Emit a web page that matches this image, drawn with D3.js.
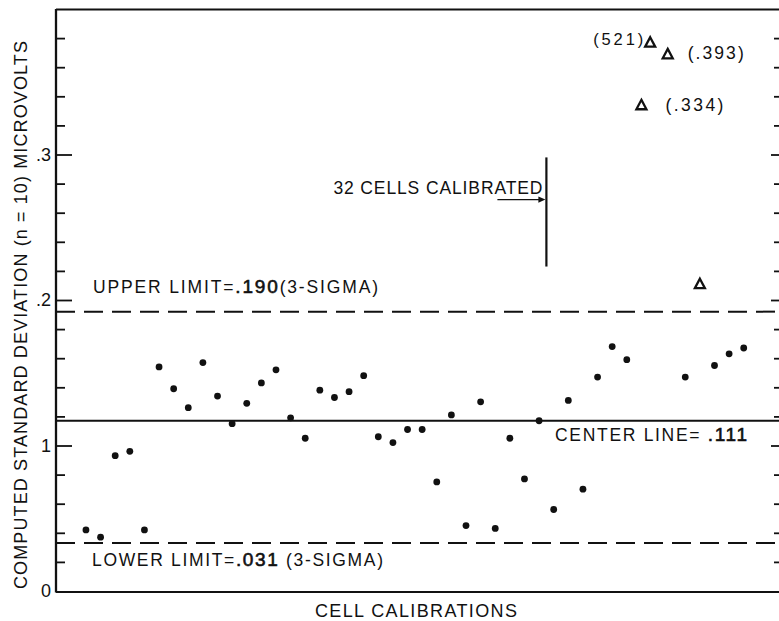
<!DOCTYPE html>
<html><head><meta charset="utf-8">
<script src="https://cdn.jsdelivr.net/npm/d3@7"></script>
<style>
body{margin:0;background:#fff}
svg{display:block;background:#fff}
text{font-family:"Liberation Sans",Arial,sans-serif;fill:#111}
</style>
</head><body><svg id="c" width="779" height="621"></svg>
<script>
// ---- data ----
const dotCells  = [0,1,2,3,4,5,6,7,8,9,10,11,12,13,14,15,16,17,18,19,20,21,22,23,24,25,26,27,28,29,30,31,32,33,34,35,36,37,41,43,44,45];
const dotValues = [0.042,0.037,0.093,0.096,0.042,0.154,0.139,0.126,0.157,0.134,0.115,0.129,0.143,0.152,0.119,0.105,0.138,0.133,0.137,0.148,0.106,0.102,0.111,0.111,0.075,0.121,0.045,0.130,0.043,0.105,0.077,0.117,0.056,0.131,0.070,0.147,0.168,0.159,0.147,0.155,0.163,0.167];
const triCells    = [38.6, 39.8, 38, 42];
const triValues   = [0.521, 0.393, 0.334, 0.211];
const triDrawnAt  = [0.377, 0.369, 0.334, 0.211];   // off-scale values are drawn near the top
const triLabels   = ["(521)", "(.393)", "(.334)", ""];
const limitDrawnAt = [0.192, 0.117, 0.033];
const limitLabels  = ["UPPER LIMIT=.190(3-SIGMA)", "CENTER LINE= .111", "LOWER LIMIT=.031 (3-SIGMA)"];
const limitDashed  = [true, false, true];
const yTickValues = [0, 0.1, 0.2, 0.3];
const yTickLabels = ["0", "1", ".2", ".3"];
const yMinorTicks = d3.range(1, 20).filter(k => k % 5 !== 0).map(k => k * 0.02);
const calibratedCells = 32;
const calibSpan = [0.223, 0.298];
const calibArrowAt = 0.269;
const calibLabel = "32 CELLS CALIBRATED";
const yTitle = "COMPUTED STANDARD DEVIATION (n = 10) MICROVOLTS";
const xTitle = "CELL CALIBRATIONS";

// ---- drawing ----
const svg = d3.select("#c");
const L = 56, R = 781, T = 9, B = 591;
const x = d3.scaleLinear().domain([-2.05, 47.55]).range([L, R]);
const y = d3.scaleLinear().domain([0, 0.4]).range([B, T]);
const ink = "#111";

// frame
svg.append("line").attr("x1", L).attr("x2", L).attr("y1", T).attr("y2", B + 1.5).attr("stroke", ink).attr("stroke-width", 2.3);
svg.append("line").attr("x1", L).attr("x2", 779).attr("y1", T + 0.5).attr("y2", T + 0.5).attr("stroke", ink).attr("stroke-width", 2.2);
svg.append("line").attr("x1", L).attr("x2", 779).attr("y1", B + 1).attr("y2", B + 1).attr("stroke", ink).attr("stroke-width", 2.2);

function styleAxis(g) {
  g.select(".domain").remove();
  g.selectAll(".tick line").attr("stroke", ink).attr("stroke-width", 1.8);
}
// left ticks (inward)
svg.append("g").attr("transform", `translate(${L},0)`)
  .call(d3.axisRight(y).tickValues(yMinorTicks).tickSize(9).tickFormat("")).call(styleAxis);
svg.append("g").attr("transform", `translate(${L},0)`)
  .call(d3.axisRight(y).tickValues(yTickValues.slice(1)).tickSize(16).tickFormat("")).call(styleAxis);
// left labels
svg.append("g").attr("transform", `translate(${L},0)`)
  .call(d3.axisLeft(y).tickValues(yTickValues).tickSize(0).tickPadding(5)
    .tickFormat((d, i) => yTickLabels[i]))
  .call(g => { g.select(".domain").remove(); g.selectAll("text").attr("font-size", 18).attr("fill", ink)
      .attr("font-family", '"Liberation Sans",Arial,sans-serif'); });
// right ticks (inward, frame just outside picture)
svg.append("g").attr("transform", `translate(781,0)`)
  .call(d3.axisLeft(y).tickValues(yMinorTicks).tickSize(7).tickFormat("")).call(styleAxis);
svg.append("g").attr("transform", `translate(781,0)`)
  .call(d3.axisLeft(y).tickValues(yTickValues.slice(1)).tickSize(10).tickFormat("")).call(styleAxis);

// control lines
limitDrawnAt.forEach((v, i) => {
  svg.append("line").attr("x1", L).attr("x2", 779).attr("y1", y(v)).attr("y2", y(v))
    .attr("stroke", ink).attr("stroke-width", 2)
    .attr("stroke-dasharray", limitDashed[i] ? "19,9" : null);
});
const limitTextPos = [{x: 93, dy: -18.5, len: 285}, {x: 555, dy: 20.5, len: 192}, {x: 92, dy: 23.5, len: 291}];
limitLabels.forEach((t, i) => {
  const txt = svg.append("text").attr("x", limitTextPos[i].x).attr("y", y(limitDrawnAt[i]) + limitTextPos[i].dy)
    .attr("font-size", 17.5).attr("textLength", limitTextPos[i].len).attr("lengthAdjust", "spacing");
  t.split(/(\.\d+)/).forEach(part => {
    if (!part) return;
    const num = /^\.\d+$/.test(part);
    txt.append("tspan").attr("font-size", num ? 19 : null)
      .attr("stroke", num ? ink : null).attr("stroke-width", num ? 0.6 : null).text(part);
  });
});

// dots
svg.append("g").selectAll("circle").data(dotCells).join("circle")
  .attr("cx", d => x(d)).attr("cy", (d, i) => y(dotValues[i])).attr("r", 3.4).attr("fill", ink);

// triangles
const tri = "M0,-5.2L5,4.2L-5,4.2Z";
svg.append("g").selectAll("path").data(triCells).join("path")
  .attr("d", tri).attr("transform", (d, i) => `translate(${x(d)},${y(triDrawnAt[i])})`)
  .attr("fill", "none").attr("stroke", ink).attr("stroke-width", 2.3);
const triLabelPos = [{dx: -7, anchor: "end", dy: -3, fs: 16.5, len: 50}, {dx: 20, anchor: "start", dy: -1, fs: 17.5, len: 56}, {dx: 24, anchor: "start", dy: 0, fs: 17.5, len: 58}, null];
triLabels.forEach((t, i) => {
  if (!t) return;
  const p = triLabelPos[i];
  svg.append("text").attr("x", x(triCells[i]) + p.dx).attr("y", y(triDrawnAt[i]) + p.dy)
    .attr("dominant-baseline", "central").attr("text-anchor", p.anchor).attr("font-size", p.fs)
    .attr("textLength", p.len).attr("lengthAdjust", "spacing").text(t);
});

// calibration marker
const cx = x(calibratedCells - 0.5);
svg.append("line").attr("x1", cx).attr("x2", cx).attr("y1", y(calibSpan[1])).attr("y2", y(calibSpan[0]))
  .attr("stroke", ink).attr("stroke-width", 2.2);
svg.append("line").attr("x1", cx - 49).attr("x2", cx - 5).attr("y1", y(calibArrowAt)).attr("y2", y(calibArrowAt))
  .attr("stroke", ink).attr("stroke-width", 1.4);
svg.append("path").attr("d", `M${cx - 1},${y(calibArrowAt)}L${cx - 8},${y(calibArrowAt) - 3.2}L${cx - 8},${y(calibArrowAt) + 3.2}Z`).attr("fill", ink);
svg.append("text").attr("x", cx - 4).attr("y", y(calibArrowAt) - 6).attr("text-anchor", "end")
  .attr("font-size", 17.5).attr("textLength", 209).attr("lengthAdjust", "spacing").text(calibLabel);

// axis titles
svg.append("text").attr("transform", "translate(21,315) rotate(-90)").attr("text-anchor", "middle")
  .attr("dominant-baseline", "central").attr("font-size", 18).attr("textLength", 548).attr("lengthAdjust", "spacing").text(yTitle);
svg.append("text").attr("x", 416).attr("y", 617).attr("text-anchor", "middle")
  .attr("font-size", 18).attr("textLength", 202).attr("lengthAdjust", "spacing").text(xTitle);
</script>
</body></html>
